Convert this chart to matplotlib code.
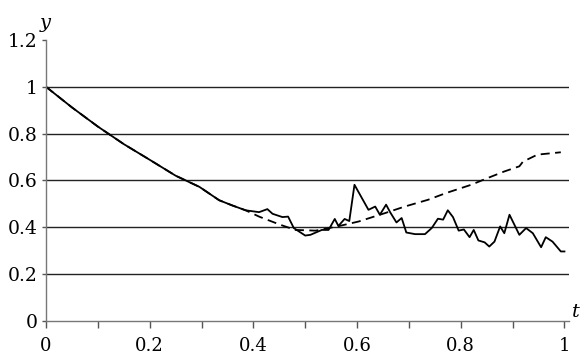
import numpy as np
import matplotlib.pyplot as plt
from matplotlib.ticker import MultipleLocator, FormatStrFormatter

# shared smooth start of both curves
t_start = [0.0, 0.05, 0.1, 0.15, 0.2, 0.25, 0.296, 0.334, 0.359, 0.385]
y_start = [1.0, 0.912, 0.83, 0.755, 0.688, 0.62, 0.572, 0.515, 0.493, 0.472]

# noisy (solid) curve after the split
t_solid = [0.411, 0.427, 0.437, 0.456, 0.467, 0.478, 0.50, 0.510, 0.532, 0.545,
           0.557, 0.564, 0.576, 0.585, 0.595, 0.622, 0.635, 0.644, 0.656, 0.664,
           0.676, 0.686, 0.695, 0.712, 0.731, 0.744, 0.756, 0.766, 0.775, 0.785,
           0.796, 0.806, 0.817, 0.825, 0.834, 0.846, 0.855, 0.865, 0.876, 0.884,
           0.894, 0.913, 0.926, 0.939, 0.955, 0.964, 0.977, 0.993, 1.0]
y_solid = [0.464, 0.477, 0.457, 0.443, 0.445, 0.396, 0.364, 0.367, 0.388, 0.388,
           0.435, 0.405, 0.435, 0.426, 0.581, 0.474, 0.488, 0.453, 0.496, 0.463,
           0.42, 0.439, 0.377, 0.37, 0.37, 0.396, 0.436, 0.432, 0.472, 0.443,
           0.385, 0.39, 0.357, 0.388, 0.343, 0.335, 0.317, 0.338, 0.403, 0.374,
           0.453, 0.367, 0.396, 0.374, 0.314, 0.357, 0.338, 0.296, 0.296]

# dashed curve after the split
t_dash = [0.411, 0.452, 0.481, 0.52, 0.564, 0.603, 0.654, 0.692, 0.737, 0.772,
          0.82, 0.852, 0.884, 0.913, 0.92, 0.948, 0.993]
y_dash = [0.445, 0.41, 0.388, 0.385, 0.404, 0.424, 0.46, 0.488, 0.517, 0.546,
          0.581, 0.61, 0.638, 0.66, 0.68, 0.71, 0.72]

plt.rcParams['font.family'] = 'DejaVu Serif'

fig = plt.figure(figsize=(5.88, 3.56), dpi=100)
ax = fig.add_axes([0.0782, 0.0992, 0.8888, 0.7884])

ax.plot(t_start + t_dash, y_start + y_dash, color='black', lw=1.3,
        dashes=(5, 3))
ax.plot(t_start + t_solid, y_start + y_solid, color='black', lw=1.3)

for g in [0.2, 0.4, 0.6, 0.8, 1.0]:
    ax.axhline(g, color='#222222', lw=1.0, zorder=0)

ax.set_xlim(0, 1.008)
ax.set_ylim(0, 1.2)
ax.xaxis.set_major_locator(MultipleLocator(0.2))
ax.xaxis.set_minor_locator(MultipleLocator(0.1))
ax.yaxis.set_major_locator(MultipleLocator(0.2))
ax.xaxis.set_major_formatter(FormatStrFormatter('%g'))
ax.yaxis.set_major_formatter(FormatStrFormatter('%g'))

for s in ['top', 'right']:
    ax.spines[s].set_visible(False)
for s in ['left', 'bottom']:
    ax.spines[s].set_color('#777777')
    ax.spines[s].set_linewidth(1.0)

ax.tick_params(axis='x', which='both', direction='out', length=5, width=1,
               color='#555555', labelsize=13, pad=7)
ax.tick_params(axis='y', direction='out', length=3, width=1,
               color='#555555', labelsize=13.5, pad=3)

ax.text(-0.012, 1.235, 'y', fontsize=14, style='italic', ha='left', va='bottom')
ax.text(1.015, 0.0, 't', fontsize=14, style='italic', ha='left', va='bottom')

fig.savefig('out.png', dpi=100)
